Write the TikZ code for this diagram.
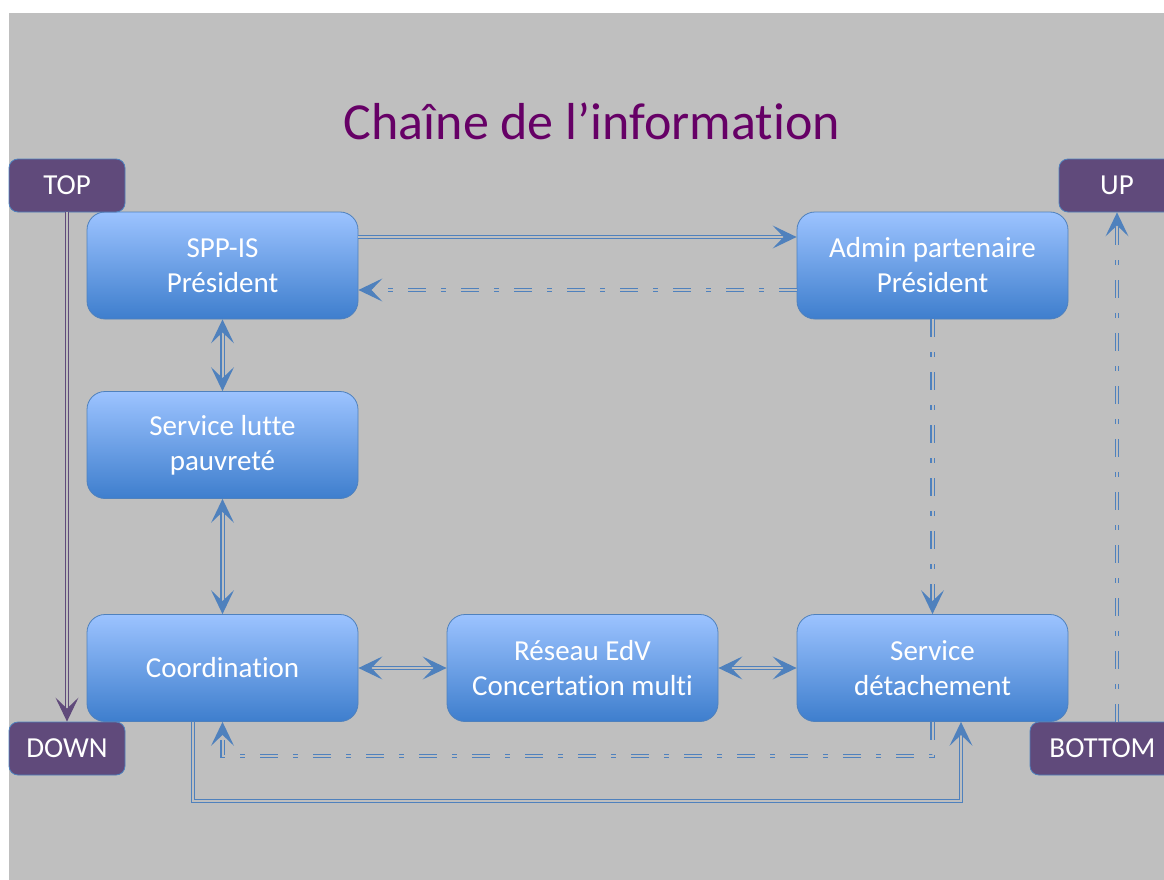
\documentclass[tikz,border=0pt]{standalone}
\usepackage{fontspec}
\setmainfont{Carlito}[Ligatures={NoCommon}]
\usetikzlibrary{arrows.meta}
\definecolor{bg}{HTML}{BFBFBF}
\definecolor{lc}{HTML}{4F81BD}
\definecolor{gtop}{HTML}{9CC3FF}
\definecolor{gbot}{HTML}{3E7ECD}
\definecolor{purp}{HTML}{604A7B}
\definecolor{titlec}{HTML}{660066}
\tikzset{
  bluebox/.style={draw=lc, line width=0.8pt, rounded corners=18pt, top color=gtop, bottom color=gbot,
    minimum width=271pt, minimum height=107pt, inner sep=0pt, text=white, align=center,
    font=\fontsize{29}{35}\selectfont},
  purplebox/.style={draw=lc, line width=0.8pt, fill=purp, rounded corners=9pt, minimum height=53pt,
    inner sep=0pt, text=white, font=\fontsize{29}{32}\selectfont},
  dbl/.style={draw=lc, line width=1.3pt, double=bg, double distance=2pt},
  ddash/.style={dbl, dash pattern=on 18pt off 15pt on 5pt off 15pt},
  pdbl/.style={dbl, draw=purp},
  tipend/.style={-{Stealth[length=24pt,width=23pt,inset=11pt]}},
  tipboth/.style={{Stealth[length=24pt,width=23pt,inset=11pt]}-{Stealth[length=24pt,width=23pt,inset=11pt]}}
}
\begin{document}
\begin{tikzpicture}[x=1pt,y=-1pt]
\useasboundingbox (0,0) rectangle (1164,880);
\clip (0,0) rectangle (1164,880);
\fill[white] (0,0) rectangle (1164,880);
\fill[bg] (9,13) rectangle (1164,880);

\node[text=titlec, font=\fontsize{52}{60}\selectfont] (title) at (592,121) {Chaîne de l’information};

\node[bluebox] (spp) at (222.5,265.5) {SPP-IS\\Président};
\node[bluebox] (admin) at (932.5,265.5) {Admin partenaire\\Président};
\node[bluebox] (lutte) at (222.5,445) {Service lutte\\pauvreté};
\node[bluebox] (coord) at (222.5,668) {Coordination};
\node[bluebox] (reseau) at (582.5,668) {Réseau EdV\\Concertation multi};
\node[bluebox] (detach) at (932.5,668) {Service\\détachement};

\node[purplebox, minimum width=116pt] (top) at (67,185.5) {TOP};
\node[purplebox, minimum width=116pt] (down) at (67,748.5) {DOWN};
\node[purplebox, minimum width=116pt] (up) at (1117,185.5) {UP};
\node[purplebox, minimum width=145pt] (bottom) at (1102.5,748.5) {BOTTOM};

% connectors
\draw[dbl, tipend] ([yshift=28.5pt]spp.east) -- ([yshift=28.5pt]admin.west);
\draw[ddash, tipend] ([yshift=-24.5pt]admin.west) -- ([yshift=-24.5pt]spp.east);
\draw[dbl, tipboth] (spp.south) -- (lutte.north);
\draw[dbl, tipboth] (lutte.south) -- (coord.north);
\draw[dbl, tipboth] (coord.east) -- (reseau.west);
\draw[dbl, tipboth] (reseau.east) -- (detach.west);
\draw[ddash, tipend] (admin.south) -- (detach.north);
\draw[ddash, tipend] (detach.south) |- ([yshift=-34pt]coord.south) -- (coord.south);
\draw[dbl, tipend] ([xshift=-29.5pt]coord.south) -- ++(0,79) -| ([xshift=28.5pt]detach.south);
\draw[pdbl, tipend] (top.south) -- (down.north);
\draw[ddash, tipend] (up.south |- bottom.north) -- (up.south);
\end{tikzpicture}
\end{document}
